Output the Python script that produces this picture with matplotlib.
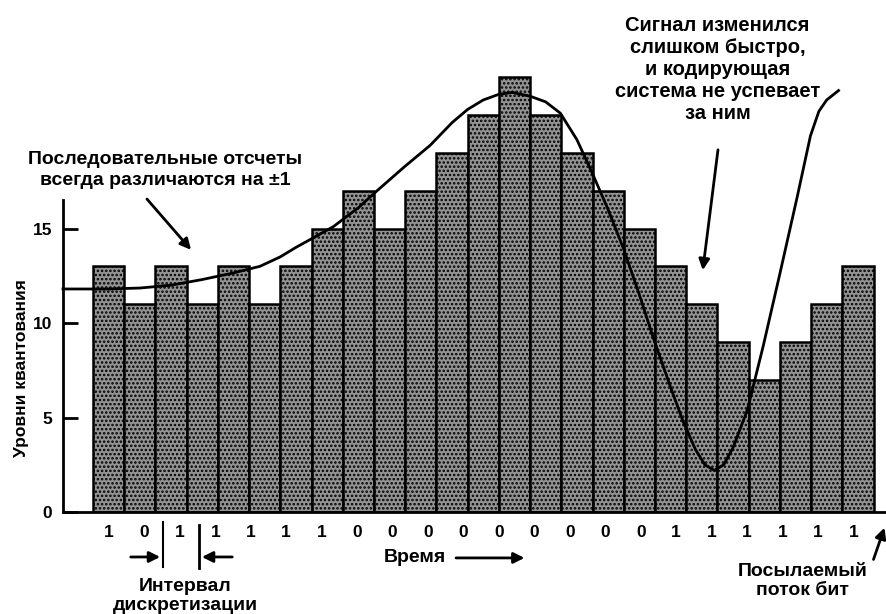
import numpy as np
import matplotlib
matplotlib.use("Agg")
import matplotlib.pyplot as plt

plt.rcParams['font.family'] = ['Liberation Sans', 'DejaVu Sans']
plt.rcParams['font.weight'] = 'bold'
plt.rcParams['hatch.linewidth'] = 1.2

# Данные: уровни квантования (высоты столбиков)
levels = [13, 11, 13, 11, 13, 11, 13, 15, 17, 15, 17, 19, 21, 23,
          21, 19, 17, 15, 13, 11, 9, 7, 9, 11, 13]
samples = np.arange(1, len(levels) + 1)

# Посылаемый поток бит
bits = ['1', '0', '1', '1', '1', '1', '1', '0', '0', '0', '0', '0',
        '0', '0', '0', '0', '1', '1', '1', '1', '1', '1']

# Исходный сигнал (точки)
sig_t = [-0.46, 1.0, 2.0, 3.0, 4.0, 5.0, 5.85, 6.5, 7.0, 7.55, 8.2, 9.0,
         9.6, 10.5, 11.3, 12.0, 12.5, 13.0, 13.5, 13.93, 14.5, 15.0, 15.47,
         16.0, 16.5, 17.0, 17.5, 18.0, 18.45, 19.0, 19.4, 19.8, 20.1, 20.4,
         20.7, 21.0, 21.46, 21.97, 22.5, 23.06, 23.48, 23.75, 24.0, 24.38]
sig_v = [11.8, 11.8, 11.85, 12.0, 12.3, 12.65, 13.0, 13.5, 14.0, 14.5,
         15.1, 16.1, 17.0, 18.3, 19.4, 20.6, 21.3, 21.8, 22.1, 22.2, 22.0,
         21.7, 21.1, 19.7, 17.9, 16.0, 13.9, 11.5, 9.2, 6.6, 4.8, 3.3, 2.5,
         2.2, 2.5, 3.4, 5.4, 8.8, 12.6, 16.7, 19.9, 21.2, 21.8, 22.3]

fig = plt.figure(figsize=(8.86, 6.14), dpi=100)
ax = fig.add_axes([63 / 886, 102 / 614, (886 - 63) / 886, 512 / 614])
ax.set_xlim(-0.46, 25.9)
ax.set_ylim(0, 27.09)

ax.bar(samples, levels, width=1.0, color='#939393', edgecolor='black',
       linewidth=1.8, hatch='....', zorder=2)
ax.plot(sig_t, sig_v, color='black', lw=2.0, zorder=3, clip_on=False,
        solid_joinstyle='round')

# Оси
for s in ['top', 'right']:
    ax.spines[s].set_visible(False)
ax.spines['left'].set_bounds(0, 16.5)
ax.spines['left'].set_linewidth(2)
ax.spines['bottom'].set_linewidth(2)
ax.set_xticks([])
ax.set_yticks([0, 5, 10, 15])
ax.tick_params(axis='y', direction='in', length=11, width=2, labelsize=12.5, pad=8)
ax.text(-1.78, 7.6, 'Уровни квантования', rotation=90, ha='center',
        va='center', fontsize=12.5)

# Биты под осью
bit_x = np.linspace(1.01, 24.86, len(bits))
for bx, b in zip(bit_x, bits):
    ax.text(bx, -1.11, b, ha='center', va='center', fontsize=12.5,
            fontweight='bold', clip_on=False)

ap = dict(arrowstyle='-|>', color='black', lw=2, mutation_scale=16)

ax.text(2.81, 18.1, 'Последовательные отсчеты\nвсегда различаются на ±1',
        ha='center', va='center', fontsize=14, linespacing=1.28)
ax.annotate('', xy=(3.7, 13.76), xytext=(2.17, 16.67), arrowprops=ap)

ax.text(20.5, 23.4, 'Сигнал изменился\nслишком быстро,\nи кодирующая\n'
        'система не успевает\nза ним', ha='center', va='center',
        fontsize=14.5, linespacing=1.2)
ax.annotate('', xy=(20.02, 12.65), xytext=(20.53, 19.31), arrowprops=ap)

# Интервал дискретизации
ax.plot([2.74, 2.74], [-0.53, -2.91], color='black', lw=1.5, clip_on=False)
ax.plot([3.9, 3.9], [-0.69, -2.96], color='black', lw=2, clip_on=False)
ax.annotate('', xy=(2.74, -2.38), xytext=(1.62, -2.38), arrowprops=ap,
            annotation_clip=False)
ax.annotate('', xy=(3.9, -2.38), xytext=(5.05, -2.38), arrowprops=ap,
            annotation_clip=False)
ax.text(3.45, -4.45, 'Интервал\nдискретизации', ha='center', va='center',
        fontsize=14, linespacing=1.15)

ax.text(10.82, -2.43, 'Время', ha='center', va='center', fontsize=14)
ax.annotate('', xy=(14.41, -2.43), xytext=(12.04, -2.43), arrowprops=ap,
            annotation_clip=False)

ax.text(23.22, -3.65, 'Посылаемый\nпоток бит', ha='center', va='center',
        fontsize=14, linespacing=1.15)
ax.annotate('', xy=(25.88, -0.69), xytext=(25.47, -2.65), arrowprops=ap,
            annotation_clip=False)

fig.savefig('out.png', dpi=100)
